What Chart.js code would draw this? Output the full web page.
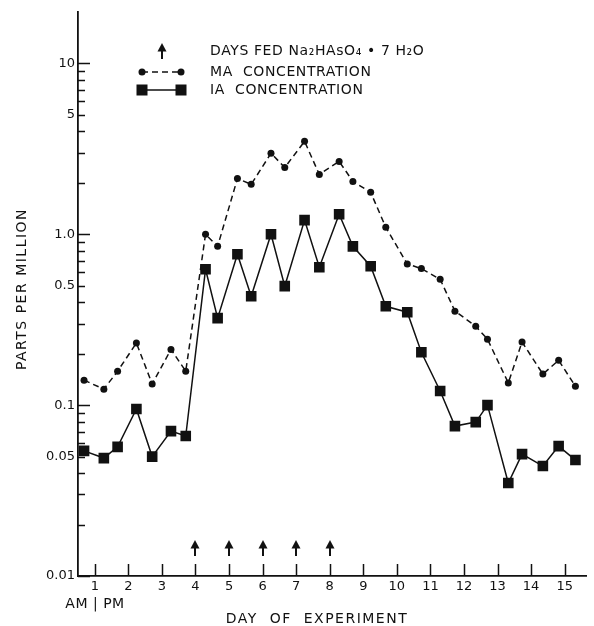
<!DOCTYPE html>
<html>
<head>
<meta charset="utf-8">
<title>MA and IA concentration by day of experiment</title>
<script src="https://cdn.jsdelivr.net/npm/chart.js@4.4.1/dist/chart.umd.min.js"></script>
<style>
  html, body { margin: 0; padding: 0; background: #fff; }
  #wrap { width: 594px; height: 626px; }
</style>
</head>
<body>
<div id="wrap"><canvas id="chart" width="594" height="626"></canvas></div>
<script>
// sampling times, AM and PM of each day
const sampleDays = [0.68, 1.27, 1.68, 2.24, 2.71, 3.27, 3.71, 4.30, 4.66, 5.25,
  5.66, 6.25, 6.66, 7.25, 7.69, 8.28, 8.69, 9.22, 9.67, 10.31,
  10.73, 11.29, 11.73, 12.35, 12.70, 13.32, 13.73, 14.35, 14.82, 15.32];

// parts per million
const maValues = [0.140, 0.124, 0.158, 0.231, 0.133, 0.212, 0.158, 1.0, 0.85, 2.12,
  1.96, 2.98, 2.46, 3.50, 2.24, 2.67, 2.04, 1.76, 1.10, 0.67,
  0.63, 0.545, 0.355, 0.290, 0.243, 0.135, 0.234, 0.152, 0.183, 0.129];
const iaValues = [0.054, 0.049, 0.057, 0.095, 0.050, 0.0705, 0.066, 0.624, 0.323, 0.764,
  0.434, 1.0, 0.497, 1.21, 0.641, 1.31, 0.85, 0.65, 0.379, 0.35,
  0.204, 0.121, 0.0754, 0.0796, 0.100, 0.035, 0.0517, 0.044, 0.0576, 0.0477];

const fedDays = [4, 5, 6, 7, 8];
const arrowLevel = 0.0146;

const dayTicks = [1, 2, 3, 4, 5, 6, 7, 8, 9, 10, 11, 12, 13, 14, 15];
const yLabelTicks = [0.01, 0.05, 0.1, 0.5, 1, 5, 10];
const yLabelText = ["0.01", "0.05", "0.1", "0.5", "1.0", "5", "10"];
const yMinorMantissas = [2, 3, 4, 6, 7, 8, 9];
const yDecades = [0.01, 0.1, 1];

const ink = "#111111";
const font = "'DejaVu Sans', sans-serif";

const yMinorTicks = [];
yDecades.forEach((d) => yMinorMantissas.forEach((m) => yMinorTicks.push(+(m * d).toPrecision(3))));

// arrow glyph used for the "days fed" markers
function makeArrow() {
  const c = document.createElement("canvas");
  c.width = 10;
  c.height = 16;
  const g = c.getContext("2d");
  g.fillStyle = ink;
  g.beginPath();
  g.moveTo(5, 0);
  g.lineTo(0.5, 8.5);
  g.lineTo(9.5, 8.5);
  g.closePath();
  g.fill();
  g.fillRect(4, 7, 2, 9);
  return c;
}
const arrowImg = makeArrow();

const isDecade = (v) => Math.abs(Math.log10(v) - Math.round(Math.log10(v))) < 1e-6;

const decorations = {
  id: "decorations",
  afterDraw(chart) {
    const { ctx, chartArea } = chart;
    const x = chart.scales.x;
    const y = chart.scales.y;
    ctx.save();
    ctx.strokeStyle = ink;
    ctx.fillStyle = ink;
    ctx.lineWidth = 1.5;

    // inward tick marks on the y axis
    ctx.beginPath();
    yLabelTicks.concat(yMinorTicks).forEach((v) => {
      const py = Math.round(y.getPixelForValue(v)) + 0.5;
      const len = isDecade(v) ? 12 : 7;
      ctx.moveTo(chartArea.left, py);
      ctx.lineTo(chartArea.left + len, py);
    });
    // upward tick marks on the x axis
    dayTicks.forEach((d) => {
      const px = Math.round(x.getPixelForValue(d)) + 0.5;
      ctx.moveTo(px, chartArea.bottom);
      ctx.lineTo(px, chartArea.bottom - 12);
    });
    ctx.stroke();

    // arrows for the days the arsenate was fed
    const ay = Math.round(y.getPixelForValue(arrowLevel) - arrowImg.height / 2);
    fedDays.forEach((d) => {
      const ax = Math.round(x.getPixelForValue(d) - arrowImg.width / 2);
      ctx.drawImage(arrowImg, ax, ay);
    });

    // legend
    ctx.font = "14px " + font;
    ctx.letterSpacing = "0.6px";
    ctx.textBaseline = "middle";
    ctx.textAlign = "left";
    ctx.drawImage(arrowImg, 157, 43);
    ctx.fillText("DAYS FED Na\u2082HAsO\u2084 \u2022 7 H\u2082O", 210, 51);

    ctx.lineWidth = 1.5;
    ctx.setLineDash([6, 4]);
    ctx.beginPath();
    ctx.moveTo(142, 72);
    ctx.lineTo(181, 72);
    ctx.stroke();
    ctx.setLineDash([]);
    [142, 181].forEach((px) => {
      ctx.beginPath();
      ctx.arc(px, 72, 3.5, 0, Math.PI * 2);
      ctx.fill();
    });
    ctx.fillText("MA  CONCENTRATION", 210, 72);

    ctx.beginPath();
    ctx.moveTo(142, 90);
    ctx.lineTo(181, 90);
    ctx.stroke();
    [142, 181].forEach((px) => ctx.fillRect(px - 5.5, 84.5, 11, 11));
    ctx.fillText("IA  CONCENTRATION", 210, 90);

    // axis titles
    ctx.letterSpacing = "1.5px";
    ctx.textAlign = "center";
    ctx.fillText("DAY  OF  EXPERIMENT", 317, 619);
    ctx.letterSpacing = "0.5px";
    ctx.fillText("AM | PM", 95, 604);

    ctx.save();
    ctx.letterSpacing = "1.5px";
    ctx.translate(22, 289);
    ctx.rotate(-Math.PI / 2);
    ctx.fillText("PARTS PER MILLION", 0, 0);
    ctx.restore();

    ctx.restore();
  }
};

new Chart(document.getElementById("chart"), {
  type: "scatter",
  data: {
    datasets: [
      {
        label: "MA CONCENTRATION",
        data: sampleDays.map((d, i) => ({ x: d, y: maValues[i] })),
        showLine: true,
        borderColor: ink,
        backgroundColor: ink,
        borderWidth: 1.5,
        borderDash: [6, 4],
        pointStyle: "circle",
        pointRadius: 3.5,
        pointBorderWidth: 0
      },
      {
        label: "IA CONCENTRATION",
        data: sampleDays.map((d, i) => ({ x: d, y: iaValues[i] })),
        showLine: true,
        borderColor: ink,
        backgroundColor: ink,
        borderWidth: 1.5,
        pointStyle: "rect",
        pointRadius: 7.5,
        pointBorderWidth: 0
      }
    ]
  },
  options: {
    responsive: false,
    animation: false,
    events: [],
    layout: { padding: { top: 12, right: 2, left: 0, bottom: 0 } },
    plugins: {
      legend: { display: false },
      tooltip: { enabled: false }
    },
    scales: {
      x: {
        type: "linear",
        min: 0.5,
        max: 15.65,
        afterBuildTicks: (scale) => {
          scale.ticks = dayTicks.map((v) => ({ value: v }));
        },
        afterFit: (scale) => {
          scale.height = 50;
        },
        grid: { drawOnChartArea: false, drawTicks: false },
        border: { color: ink, width: 1.8 },
        ticks: {
          autoSkip: false,
          maxRotation: 0,
          padding: 3,
          color: ink,
          font: { family: font, size: 13 }
        }
      },
      y: {
        type: "logarithmic",
        min: 0.01,
        max: 20,
        afterBuildTicks: (scale) => {
          scale.ticks = yLabelTicks.concat(yMinorTicks)
            .sort((a, b) => a - b)
            .map((v) => ({ value: v }));
        },
        afterFit: (scale) => {
          scale.width = 78;
        },
        grid: { drawOnChartArea: false, drawTicks: false },
        border: { color: ink, width: 1.8 },
        ticks: {
          autoSkip: false,
          padding: 3,
          color: ink,
          font: { family: font, size: 13 },
          callback: (value) => {
            const i = yLabelTicks.findIndex((t) => Math.abs(t - value) < 1e-9);
            return i >= 0 ? yLabelText[i] : "";
          }
        }
      }
    }
  },
  plugins: [decorations]
});
</script>
</body>
</html>
